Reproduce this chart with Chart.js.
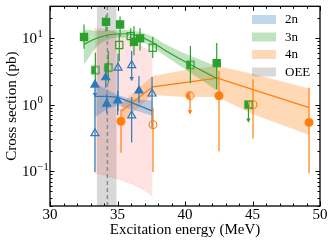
<!DOCTYPE html>
<html>
<head>
<meta charset="utf-8">
<script src="https://cdn.jsdelivr.net/npm/chart.js@4/dist/chart.umd.min.js"></script>
<style>
  html, body { margin: 0; padding: 0; background: #fff; }
</style>
</head>
<body>
<canvas id="chart" width="332" height="243"></canvas>
<script>
const FONT = "'Liberation Serif', 'Times New Roman', serif";
const BLUE = '#2b7bba';
const GREEN = '#2ca02c';
const ORANGE = '#ff7f0e';

// Axes
const xRange = [30, 50];
const yRange = [0.03, 30];
const yTicks = [0.1, 1, 10];
const yTickExp = ['\u22121', '0', '1'];

// 2n measurements (f = filled, o = open, h = half filled; lim = upper limit)
const x2 = [33.33, 34.13, 34.2, 35.01, 36.59, 35.04, 36.05, 37.56, 36.05, 33.33];
const y2 = [1.99, 2.56, 1.03, 1.15, 1.62, 3.57, 3.9, 1.46, 0.685, 0.37];
const lo2 = [1.32, 1.8, 0.75, 0.7, 1.07, 0.8, 2.3, 0.45, 0.27, 0.097];
const hi2 = [1.99, 3.4, 1.45, 1.6, 2.7, 5.8, 6.4, 2.6, 1.3, 1.3];
const kind2 = ['f', 'f', 'f', 'f', 'f', 'o', 'o', 'o', 'o', 'o'];
const lim2 = [1, 0, 0, 0, 0, 0, 1, 0, 0, 0];

// 3n measurements
const x3 = [32.52, 33.36, 34.15, 34.32, 35.13, 35.19, 35.98, 36.22, 36.67, 37.61, 40.4, 42.35, 44.7];
const y3 = [10.35, 3.3, 17.5, 3.6, 7.86, 16.0, 10.7, 8.8, 9.9, 7.16, 3.95, 4.2, 1.0];
const lo3 = [6.9, 2.1, 12.5, 2.1, 4.5, 10.5, 7.5, 5.5, 6.5, 5.0, 2.1, 1.7, 0.55];
const hi3 = [16, 6.0, 22, 6.4, 11.5, 21, 14, 15, 14, 10.5, 7.6, 8.4, 1.0];
const kind3 = ['f', 'h', 'f', 'h', 'o', 'f', 'o', 'f', 'f', 'o', 'h', 'f', 'h'];
const lim3 = [0, 0, 0, 0, 0, 0, 0, 0, 0, 0, 0, 0, 1];

// 4n measurements
const x4 = [35.26, 37.63, 40.37, 42.52, 45.04, 49.19];
const y4 = [0.563, 0.50, 1.36, 1.36, 1.0, 0.54];
const lo4 = [0.19, 0.097, 0.73, 0.2, 0.31, 0.093];
const hi4 = [0.85, 0.9, 1.36, 3.2, 2.4, 1.8];
const kind4 = ['f', 'o', 'h', 'f', 'o', 'f'];
const lim4 = [0, 0, 1, 0, 0, 0];

// Fits and their uncertainty bands
const fx2 = [33.3, 34.2, 35.0, 36.0, 37.6];
const fy2 = [1.33, 1.33, 1.3, 1.08, 0.8];
const fl2 = [0.64, 0.85, 0.97, 0.85, 0.68];
const fh2 = [2.1, 1.7, 1.4, 1.22, 1.15];

const fx3 = [32.5, 33.5, 34.5, 35.5, 36.5, 37.6, 38.6, 40.4, 42.4];
const fy3 = [8.0, 10.0, 11.3, 11.6, 10.8, 8.6, 6.4, 4.0, 2.45];
const fl3 = [4.0, 7.5, 9.8, 10.2, 9.3, 7.3, 5.3, 3.0, 1.6];
const fh3 = [13.5, 13.0, 13.0, 13.2, 12.5, 10.5, 8.0, 5.4, 3.7];

const fx4 = [35.3, 37.6, 42.4, 49.2];
const fy4 = [0.8, 1.85, 2.5, 0.9];
const bx4 = [35.3, 37.6, 40.0, 42.4, 45.0, 49.2];
const bl4 = [0.55, 1.4, 1.3, 1.3, 0.72, 0.35];
const bh4 = [1.05, 2.7, 3.3, 3.8, 2.9, 1.75];

// Pink region
const px = [33.3, 34.2, 35.2, 36.2, 37.0, 37.6];
const pHi = [14, 13.5, 11.5, 9, 7, 5.8];
const pLo = [0.095, 0.085, 0.075, 0.063, 0.052, 0.042];

// OEE band
const oeeRange = [33.46, 34.94];
const oeeMid = 34.25;

const pts = (xs, ys) => xs.map((x, i) => ({ x: x, y: ys[i] }));

// half filled marker images
function halfMarker(shape, color) {
  const c = document.createElement('canvas');
  c.width = 11; c.height = 11;
  const g = c.getContext('2d');
  const path = () => {
    g.beginPath();
    if (shape === 'rect') g.rect(1.9, 1.9, 7.2, 7.2);
    else g.arc(5.5, 5.5, 3.8, 0, Math.PI * 2);
  };
  g.save();
  path(); g.clip();
  g.fillStyle = color;
  g.fillRect(0, 0, 5.5, 11);
  g.restore();
  path();
  g.lineWidth = 1.2; g.strokeStyle = color; g.stroke();
  return c;
}

function markerSet(xs, ys, kinds, shape, color, radius) {
  const half = halfMarker(shape, color);
  return {
    type: 'line', isMarker: true, order: 0, showLine: false,
    data: pts(xs, ys),
    pointStyle: kinds.map(k => k === 'h' ? half : shape),
    pointRadius: radius,
    pointBorderWidth: 1.2,
    pointBorderColor: color,
    pointBackgroundColor: kinds.map(k => k === 'f' ? color : 'rgba(255,255,255,0)')
  };
}

function bandPair(xs, lo, hi, fillColor, mode) {
  return [
    { type: 'line', order: 3, data: pts(xs, hi), borderWidth: 0, pointRadius: 0,
      fill: '+1', backgroundColor: fillColor, cubicInterpolationMode: mode || 'default' },
    { type: 'line', order: 3, data: pts(xs, lo), borderWidth: 0, pointRadius: 0,
      fill: false, cubicInterpolationMode: mode || 'default' }
  ];
}

const errorSets = [
  { xs: x2, ys: y2, lo: lo2, hi: hi2, lim: lim2, color: BLUE },
  { xs: x3, ys: y3, lo: lo3, hi: hi3, lim: lim3, color: GREEN },
  { xs: x4, ys: y4, lo: lo4, hi: hi4, lim: lim4, color: ORANGE }
];

const legendItems = [
  ['2n', 'rgba(43,123,186,0.3)'],
  ['3n', 'rgba(44,160,44,0.3)'],
  ['4n', 'rgba(255,127,14,0.3)'],
  ['OEE', 'rgba(128,128,128,0.3)']
];

const datasets = [
  markerSet(x2, y2, kind2, 'triangle', BLUE, 4.6),
  markerSet(x3, y3, kind3, 'rect', GREEN, 5.1),
  markerSet(x4, y4, kind4, 'circle', ORANGE, 3.9),
  { type: 'line', order: 1, data: pts(fx2, fy2), borderColor: BLUE, borderWidth: 1.2, pointRadius: 0, fill: false },
  { type: 'line', order: 1, data: pts(fx3, fy3), borderColor: GREEN, borderWidth: 1.2, pointRadius: 0, fill: false, cubicInterpolationMode: 'monotone' },
  { type: 'line', order: 1, data: pts(fx4, fy4), borderColor: ORANGE, borderWidth: 1.2, pointRadius: 0, fill: false },
  ...bandPair(fx2, fl2, fh2, 'rgba(43,123,186,0.3)'),
  ...bandPair(fx3, fl3, fh3, 'rgba(44,160,44,0.3)', 'monotone'),
  ...bandPair(bx4, bl4, bh4, 'rgba(255,127,14,0.3)'),
  { type: 'line', order: 4, data: pts(px, pHi), borderColor: 'rgba(235,90,90,0.45)', borderWidth: 1,
    borderDash: [1, 2], pointRadius: 0, fill: '+1', backgroundColor: 'rgba(255,0,0,0.11)' },
  { type: 'line', order: 4, data: pts(px, pLo), borderColor: 'rgba(235,90,90,0.45)', borderWidth: 1,
    borderDash: [1, 2], pointRadius: 0, fill: false },
  { type: 'line', order: 5, data: pts(oeeRange, [yRange[1], yRange[1]]), borderWidth: 0, pointRadius: 0,
    fill: 'start', backgroundColor: 'rgba(128,128,128,0.3)' },
  { type: 'line', order: 2, data: pts([oeeMid, oeeMid], yRange), borderColor: '#8c8c8c', borderWidth: 1.5,
    borderDash: [4, 3], pointRadius: 0, fill: false }
];

function line(ctx, x1, y1, x2, y2) {
  ctx.beginPath(); ctx.moveTo(x1, y1); ctx.lineTo(x2, y2); ctx.stroke();
}

const decorPlugin = {
  id: 'decor',
  beforeDraw(chart) { chart.$errDone = false; },
  beforeDatasetDraw(chart, args) {
    const ds = chart.data.datasets[args.index];
    if (!ds.isMarker || chart.$errDone) return;
    chart.$errDone = true;
    const { ctx, scales: { x, y } } = chart;
    ctx.save();
    ctx.lineWidth = 1.2;
    errorSets.forEach(s => {
      ctx.strokeStyle = s.color; ctx.fillStyle = s.color;
      s.xs.forEach((xv, i) => {
        const px = x.getPixelForValue(xv);
        const top = y.getPixelForValue(s.hi[i]);
        const bot = y.getPixelForValue(s.lo[i]);
        line(ctx, px, top, px, bot);
        if (s.lim[i]) {
          ctx.beginPath();
          ctx.moveTo(px - 2.3, bot - 3.5); ctx.lineTo(px + 2.3, bot - 3.5); ctx.lineTo(px, bot + 0.5);
          ctx.closePath(); ctx.fill();
        }
      });
    });
    ctx.restore();
  },
  afterDraw(chart) {
    const { ctx, chartArea: a, scales: { x, y } } = chart;
    ctx.save();
    ctx.strokeStyle = '#000';
    ctx.lineWidth = 1;
    for (let v = xRange[0]; v <= xRange[1]; v++) {
      const len = v % 5 === 0 ? 4.5 : 2.5;
      const p = Math.round(x.getPixelForValue(v)) + 0.5;
      line(ctx, p, a.bottom, p, a.bottom - len);
      line(ctx, p, a.top, p, a.top + len);
    }
    for (let e = -2; e <= 1; e++) {
      for (let m = 1; m <= 9; m++) {
        const v = m * Math.pow(10, e);
        if (v < yRange[0] * 0.999 || v > yRange[1] * 1.001) continue;
        const len = m === 1 ? 4.5 : 2.5;
        const p = Math.round(y.getPixelForValue(v)) + 0.5;
        line(ctx, a.left, p, a.left + len, p);
        line(ctx, a.right, p, a.right - len, p);
      }
    }
    ctx.lineWidth = 1.3;
    ctx.strokeRect(a.left, a.top, a.right - a.left, a.bottom - a.top);

    // y tick labels with exponents
    ctx.fillStyle = '#000';
    ctx.textAlign = 'left';
    ctx.textBaseline = 'middle';
    yTicks.forEach((v, i) => {
      const p = y.getPixelForValue(v);
      ctx.font = '15px ' + FONT;
      ctx.fillText('10', 22, p + 1);
      const w = ctx.measureText('10').width;
      ctx.font = '10.5px ' + FONT;
      ctx.fillText(yTickExp[i], 22 + w + 0.5, p - 4);
    });

    // legend
    legendItems.forEach((item, i) => {
      const cy = 19.5 + i * 17.5;
      ctx.fillStyle = item[1];
      ctx.fillRect(252, cy - 4.5, 24, 9);
      ctx.fillStyle = '#000';
      ctx.font = '13px ' + FONT;
      ctx.fillText(item[0], 285, cy + 0.5);
    });
    ctx.restore();
  }
};

new Chart(document.getElementById('chart'), {
  type: 'line',
  data: { datasets: datasets },
  options: {
    responsive: false,
    animation: false,
    devicePixelRatio: 1,
    layout: { padding: { top: 5, right: 12, left: 0, bottom: 0 } },
    plugins: { legend: { display: false }, tooltip: { enabled: false } },
    scales: {
      x: {
        type: 'linear', min: xRange[0], max: xRange[1],
        grid: { display: false, drawTicks: false },
        border: { display: false },
        ticks: { stepSize: 5, padding: 0, color: '#000', font: { family: FONT, size: 15 } },
        title: { display: true, text: 'Excitation energy (MeV)', color: '#000',
          font: { family: FONT, size: 15 }, padding: { top: 0, bottom: 4 } },
        afterFit(s) { s.height = 37; }
      },
      y: {
        type: 'logarithmic', min: yRange[0], max: yRange[1],
        grid: { display: false, drawTicks: false },
        border: { display: false },
        ticks: { display: false },
        title: { display: true, text: 'Cross section (pb)', color: '#000',
          font: { family: FONT, size: 15 }, padding: { top: 3, bottom: 0 } },
        afterFit(s) { s.width = 50; }
      }
    }
  },
  plugins: [decorPlugin]
});
</script>
</body>
</html>
